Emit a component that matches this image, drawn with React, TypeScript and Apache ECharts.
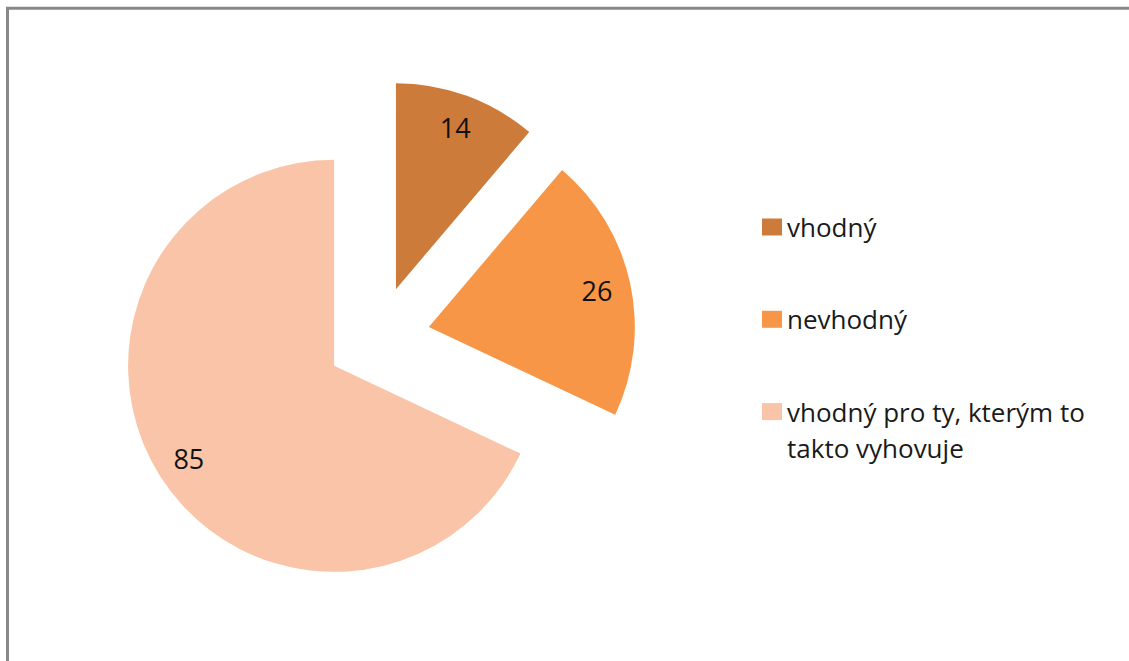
import React, { useEffect, useRef } from "react";
import * as echarts from "echarts";

const categories = ["vhodný", "nevhodný", "vhodný pro ty, kterým to takto vyhovuje"];
const legendFirstLines = ["vhodný", "nevhodný", "vhodný pro ty, kterým to"];
const legendSecondLine = "takto vyhovuje";
const values = [14, 26, 85];
const colors = ["#CC7B3A", "#F79646", "#FAC4A8"];

const FONT = "'Open Sans', Lato, sans-serif";

export default function App() {
  const ref = useRef<HTMLDivElement>(null);
  useEffect(() => {
    if (!ref.current) return;
    const prevOverflow = document.body.style.overflow;
    document.body.style.overflow = "hidden";
    const chart = echarts.init(ref.current, null, { renderer: "svg" });
    const data = categories.map((name, i) => ({
      name,
      value: values[i],
      selected: true,
      itemStyle: { color: colors[i] },
      select: { itemStyle: { color: colors[i], borderWidth: 0 } },
    }));
    const labelData = categories.map((name, i) => ({
      name,
      value: values[i],
      selected: true,
      itemStyle: { color: "rgba(0,0,0,0)" },
      select: { itemStyle: { color: "rgba(0,0,0,0)", borderWidth: 0 } },
    }));

    const legendLeft = 762;
    const legendIconW = 20;
    const legendIconH = 17;
    const legendFont = 26;
    const firstCenter = 227;
    const step = 92.3;
    const itemH = 26;
    const lineStep = 36.5;

    chart.setOption({
      animation: false,
      backgroundColor: "#ffffff",
      graphic: [
        {
          type: "line",
          shape: { x1: 6, y1: 8.3, x2: 1400, y2: 8.3 },
          style: { stroke: "#888888", lineWidth: 3 },
          silent: true,
        },
        {
          type: "line",
          shape: { x1: 7.5, y1: 7, x2: 7.5, y2: 800 },
          style: { stroke: "#888888", lineWidth: 3 },
          silent: true,
        },
        {
          type: "text",
          x: legendLeft + legendIconW + 5,
          y: firstCenter + 2 * step + lineStep,
          style: {
            text: legendSecondLine,
            fontFamily: FONT,
            fontSize: legendFont,
            verticalAlign: "middle",
            align: "left",
            fill: "#1a1a1a",
          },
          silent: true,
        },
      ],
      legend: {
        orient: "vertical",
        left: legendLeft,
        top: firstCenter - itemH / 2,
        padding: 0,
        itemWidth: legendIconW,
        itemHeight: legendIconH,
        itemGap: step - itemH,
        icon: "rect",
        selectedMode: false,
        data: categories,
        formatter: (name: string) => legendFirstLines[categories.indexOf(name)],
        textStyle: {
          fontFamily: FONT,
          fontSize: legendFont,
          color: "#1a1a1a",
        },
      },
      series: [
        {
          type: "pie",
          center: [378, 338],
          radius: 206,
          startAngle: 90,
          clockwise: true,
          selectedMode: "multiple",
          selectedOffset: 52,
          silent: true,
          emphasis: { scale: false },
          label: { show: false },
          labelLine: { show: false },
          data,
        },
        {
          type: "pie",
          center: [378, 338],
          radius: [132, 206],
          startAngle: 90,
          clockwise: true,
          selectedMode: "multiple",
          selectedOffset: 52,
          silent: true,
          emphasis: { scale: false },
          label: {
            show: true,
            position: "inside",
            formatter: "{c}",
            fontFamily: FONT,
            fontSize: 27,
            color: "#111111",
          },
          labelLine: { show: false },
          data: labelData,
        },
      ],
    });
    return () => {
      chart.dispose();
      document.body.style.overflow = prevOverflow;
    };
  }, []);
  return (
    <div
      ref={ref}
      style={{ position: "fixed", left: 0, top: 0, width: 1129, height: 661, overflow: "hidden" }}
    />
  );
}
